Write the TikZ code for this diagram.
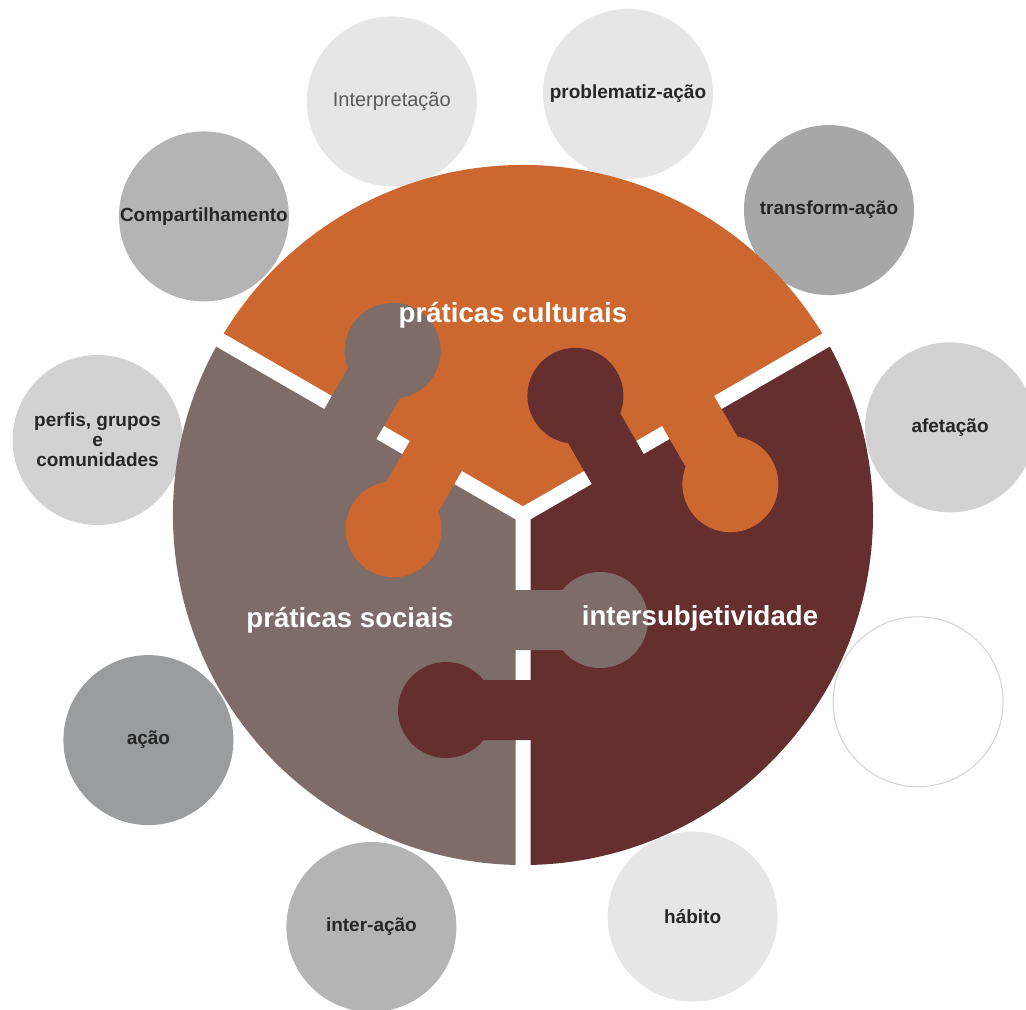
\documentclass[tikz,border=0pt]{standalone}
\usepackage{fontspec}
\setmainfont{Liberation Sans}
\usepackage{tikz}
\definecolor{cultura}{RGB}{205,103,48}
\definecolor{social}{RGB}{125,108,103}
\definecolor{intersub}{RGB}{100,47,46}
\definecolor{grayA}{RGB}{230,230,230}
\definecolor{grayB}{RGB}{210,210,210}
\definecolor{grayC}{RGB}{180,180,180}
\definecolor{grayD}{RGB}{167,167,167}
\definecolor{grayE}{RGB}{155,156,158}

\begin{document}
\begin{tikzpicture}[
     x = .5pt, y = .5pt,
     bubble/.style = {
     	circle, inner sep = 0pt, minimum size = 85pt, align = center,
     	text = black!85, font = \fontsize{9.5}{10}\selectfont\bfseries},
     piecelabel/.style = {
     	white, anchor = base, font = \fontsize{13.8}{16}\selectfont\bfseries}
     ]

       \useasboundingbox (-523,-494) rectangle (503,515);

       % ring of concepts
       \node[bubble, fill = grayA, text = black!65,
             font = \fontsize{10}{12}\selectfont] (interp) at (107.6:434) {Interpretação}; % 0
       \node[bubble, fill = grayA] (problem) at (76:434) {problematiz-ação}; % 1
       \node[bubble, fill = grayC] (compart) at (136.9:437) {Compartilhamento}; % 2
       \node[bubble, fill = grayD] (transf) at (44.9:432) {transform-ação}; % 3
       \node[bubble, fill = grayB] (perfis) at (170:432) {perfis, grupos\\e\\comunidades}; % 4
       \node[bubble, fill = grayE] (acao) at (211:437) {ação}; % 5
       \node[bubble, fill = grayB] (afet) at (11.6:436) {afetação}; % 6
       \node[bubble, draw = black!18, line width = .5pt] (vazio) at (-25.3:437) {}; % 7
       \node[bubble, fill = grayA] (habito) at (-67.1:436) {hábito}; % 8
       \node[bubble, fill = grayC] (inter) at (-110.2:439) {inter-ação}; % 9

       % the three pieces
       \fill[cultura] (0,0) -- (30:350) arc[start angle = 30, end angle = 150, radius = 175pt] -- cycle;
       \fill[social] (0,0) -- (150:350) arc[start angle = 150, end angle = 270, radius = 175pt] -- cycle;
       \fill[intersub] (0,0) -- (270:350) arc[start angle = 270, end angle = 390, radius = 175pt] -- cycle;

       \draw[white, line width = 7.5pt] (150:352) -- (0,0) -- (30:352) (0,0) -- (270:352);

       % knobs across each cut
       \foreach \ang/\lo/\hi in {30/intersub/cultura, 150/cultura/social, 270/social/intersub}{
       \begin{scope}[rotate = \ang]
       \fill[\lo] (75,-12) -- (135,-12) -- (135,77) -- (75,77) -- cycle (105,77) circle[radius = 24pt];
       \fill[\hi] (165,12) -- (165,-77) -- (225,-77) -- (225,12) -- cycle (195,-77) circle[radius = 24pt];
       \end{scope}
       }

       \node[piecelabel] (cult) at (-10,193) {práticas culturais};
       \node[piecelabel] (soc) at (-173,-112) {práticas sociais};
       \node[piecelabel] (sub) at (177,-110) {intersubjetividade};

      \end{tikzpicture}
\end{document}
